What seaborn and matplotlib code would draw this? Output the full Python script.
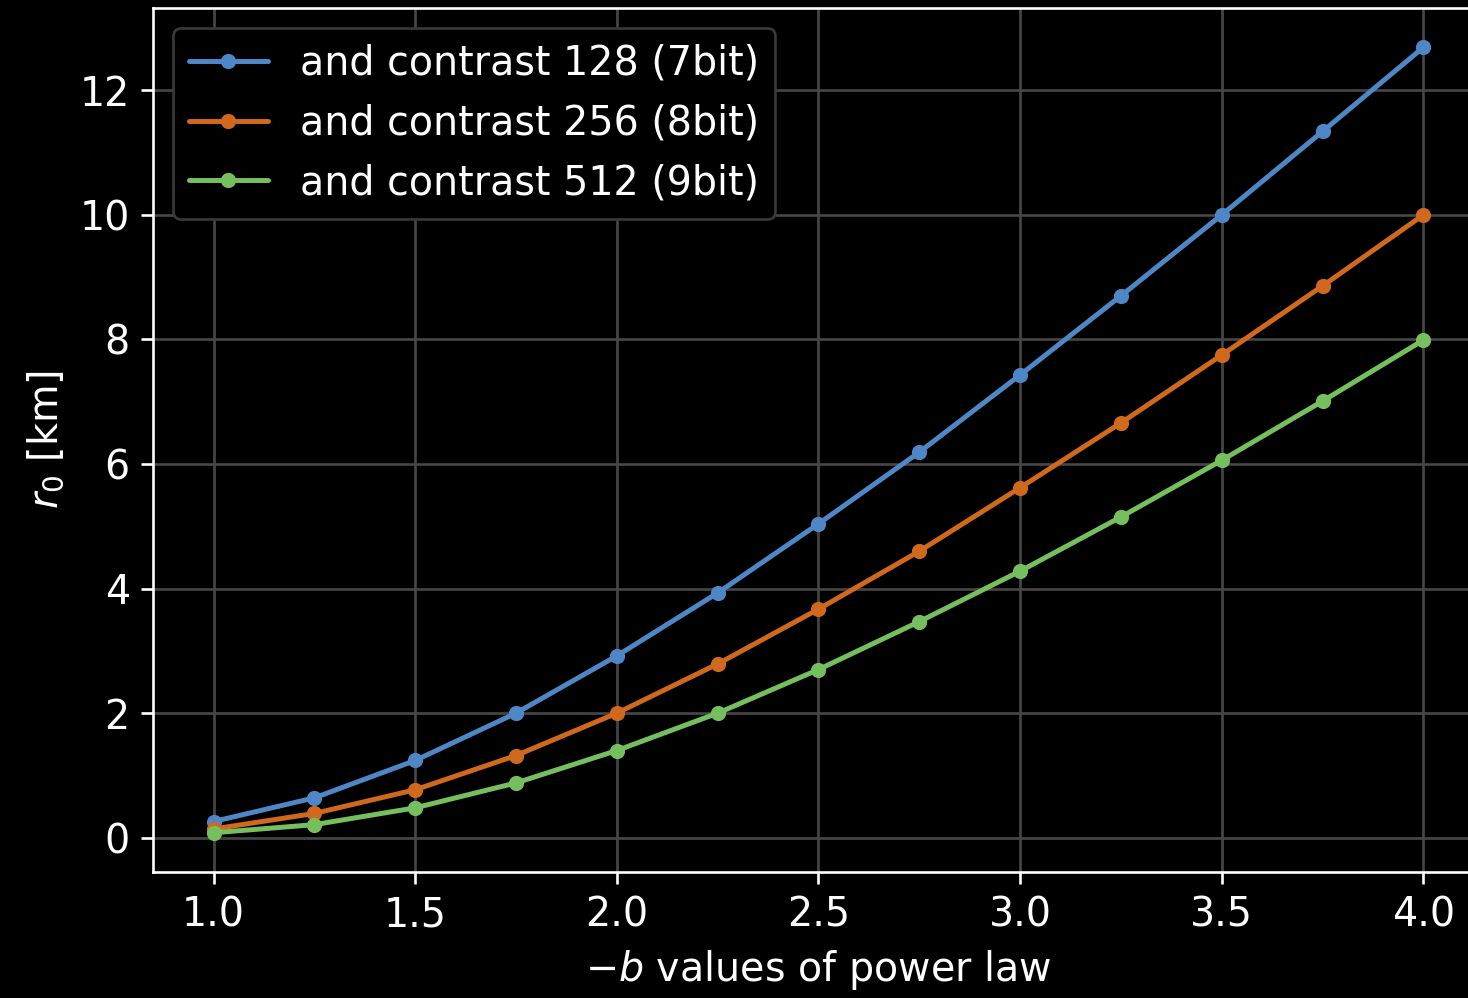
import numpy as np
import pandas as pd
import matplotlib
matplotlib.use("Agg")
import matplotlib.pyplot as plt
import seaborn as sns

b_values = [1.0, 1.25, 1.5, 1.75, 2.0, 2.25, 2.5, 2.75, 3.0, 3.25, 3.5, 3.75, 4.0]
r0_7bit = [0.26, 0.64, 1.24, 2.00, 2.92, 3.93, 5.04, 6.19, 7.43, 8.70, 10.00, 11.34, 12.69]
r0_8bit = [0.14, 0.39, 0.77, 1.32, 2.00, 2.79, 3.67, 4.60, 5.62, 6.66, 7.75, 8.86, 10.00]
r0_9bit = [0.08, 0.21, 0.48, 0.88, 1.40, 2.00, 2.70, 3.47, 4.28, 5.15, 6.06, 7.01, 7.99]
labels = ["and contrast 128 (7bit)", "and contrast 256 (8bit)", "and contrast 512 (9bit)"]
colors = ["#4f87c6", "#d0681f", "#76bf5f"]

df = pd.concat([
    pd.DataFrame({"b": b_values, "r0": vals, "series": lab})
    for vals, lab in zip([r0_7bit, r0_8bit, r0_9bit], labels)
], ignore_index=True)

sns.set_theme(style="dark")
plt.rcParams.update({
    "figure.facecolor": "black",
    "axes.facecolor": "black",
    "axes.edgecolor": "white",
    "axes.labelcolor": "white",
    "text.color": "white",
    "xtick.color": "white",
    "ytick.color": "white",
    "grid.color": "#474747",
    "axes.linewidth": 0.8,
    "xtick.major.size": 3.5,
    "ytick.major.size": 3.5,
    "xtick.major.width": 0.8,
    "ytick.major.width": 0.8,
    "xtick.major.pad": 3.5,
    "ytick.major.pad": 3.5,
    "axes.labelpad": 4.0,
    "xtick.bottom": True,
    "ytick.left": True,
})
plt.rcParams["font.family"] = ["DejaVu Sans"]

dpi = 238
fig = plt.figure(figsize=(1468 / dpi, 998 / dpi), dpi=dpi)
ax = fig.add_axes([153 / 1468, 126 / 998, (1484 - 153) / 1468, (872 - 8) / 998])

sns.lineplot(data=df, x="b", y="r0", hue="series", palette=colors,
             marker="o", markersize=4.6, markeredgewidth=0, linewidth=1.5, ax=ax)

ax.set_xlim(0.85, 4.15)
ax.set_ylim(-0.55, 13.32)
ax.set_xticks([1.0, 1.5, 2.0, 2.5, 3.0, 3.5, 4.0])
ax.set_yticks([0, 2, 4, 6, 8, 10, 12])
ax.grid(True, color="#474747", linewidth=0.8)
for s in ax.spines.values():
    s.set_color("white")
    s.set_linewidth(0.8)
fs = 12
ax.tick_params(labelsize=fs, colors="white")
ax.set_xlabel(r"$-b$ values of power law", fontsize=fs, color="white")
ax.set_ylabel(r"$r_0$ [km]", fontsize=fs, color="white")

leg = ax.legend(loc="upper left", fontsize=fs, frameon=True, facecolor="black",
                edgecolor="#3a3a3a", framealpha=1.0)
leg.get_frame().set_linewidth(0.8)
for t in leg.get_texts():
    t.set_color("white")

fig.savefig("out.png", dpi=dpi, facecolor="black")
